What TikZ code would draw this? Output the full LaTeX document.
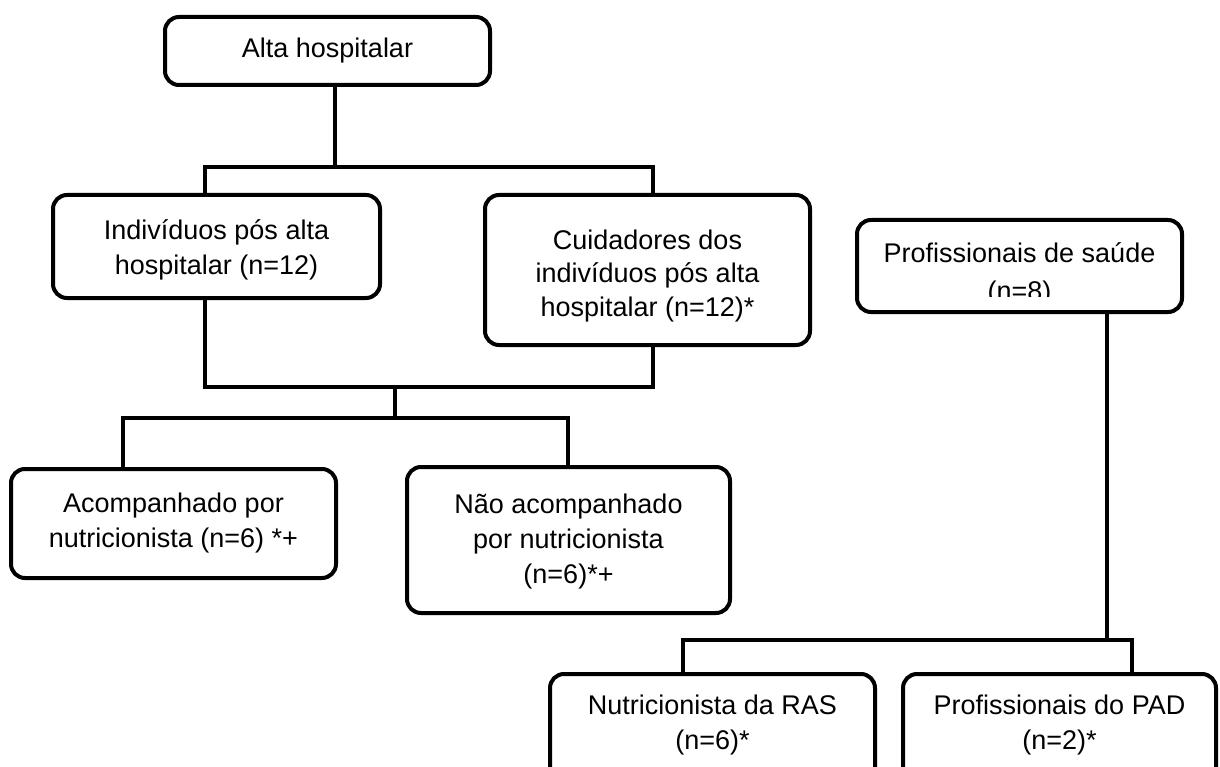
\documentclass[tikz,border=0pt]{standalone}
\usepackage{fontspec}
\setmainfont{Liberation Sans}
\begin{document}
\begin{tikzpicture}[x=1pt,y=-1pt,
  box/.style={draw=black, fill=white, line width=4pt, rounded corners=14pt, inner sep=0pt,
    align=center, font=\fontsize{27}{35}\selectfont},
  txt/.style={inner sep=0pt, align=center, font=\fontsize{27}{35}\selectfont},
  conn/.style={draw=black, line width=4pt}]
\useasboundingbox (0,0) rectangle (1220,767);
\fill[white] (0,0) rectangle (1220,767);

% boxes
\node[box, minimum width=325pt, minimum height=68pt] (alta) at (327.5,51) {Alta hospitalar};
\node[box, minimum width=327pt, minimum height=103pt] (indiv) at (216.5,246.5) {};
\node[txt] (indivt) at (216.5,250) {Indivíduos pós alta\\hospitalar (n=12)};
\node[box, minimum width=325pt, minimum height=150pt] (cuid) at (647.5,270) {};
\node[txt, font=\fontsize{27}{33.5}\selectfont] (cuidt) at (647.5,276) {Cuidadores dos\\indivíduos pós alta\\hospitalar (n=12)*};
\node[box, minimum width=325pt, minimum height=109pt] (acomp) at (173.5,523.5) {Acompanhado por\\nutricionista (n=6) *+};
\node[box, minimum width=323pt, minimum height=146pt] (nao) at (568.5,540) {};
\node[txt] (naot) at (568.5,542) {Não acompanhado\\por nutricionista\\(n=6)*+};
\node[box, minimum width=325pt, minimum height=92pt] (prof) at (1019.5,266) {};
\begin{scope}
  \clip (870,226) rectangle (1170,296);
  \node[txt, font=\fontsize{27}{38}\selectfont] (proft) at (1019.5,274) {Profissionais de saúde\\(n=8)};
\end{scope}
\node[box, minimum width=325pt, minimum height=150pt, anchor=north] (nutri) at (712.5,672) {};
\node[txt] (nutrit) at (712.5,725) {Nutricionista da RAS\\(n=6)*};
\node[box, minimum width=313pt, minimum height=150pt, anchor=north] (pad) at (1059.5,672) {};
\node[txt] (padt) at (1059.5,725) {Profissionais do PAD\\(n=2)*};

% junction coordinates
\coordinate (a0) at (335,167);
\coordinate (a1) at (205,167);
\coordinate (a2) at (653,167);
\coordinate (b0) at (395,387);
\coordinate (b1) at (205,387);
\coordinate (b2) at (653,387);
\coordinate (c0) at (395,418);
\coordinate (c1) at (123,418);
\coordinate (c2) at (568,418);
\coordinate (d0) at (1107,640);
\coordinate (d1) at (683,640);
\coordinate (d2) at (1132,640);

% connectors
\draw[conn] (alta.south -| a0) -- (a0);
\draw[conn] (indiv.north -| a1) -- (a1) -- (a2) -- (cuid.north -| a2);
\draw[conn] (indiv.south -| b1) -- (b1) -- (b2) -- (cuid.south -| b2);
\draw[conn] (b0) -- (c0);
\draw[conn] (acomp.north -| c1) -- (c1) -- (c2) -- (nao.north -| c2);
\draw[conn] (prof.south -| d0) -- (d0);
\draw[conn] (nutri.north -| d1) -- (d1) -- (d2) -- (pad.north -| d2);
\end{tikzpicture}
\end{document}
